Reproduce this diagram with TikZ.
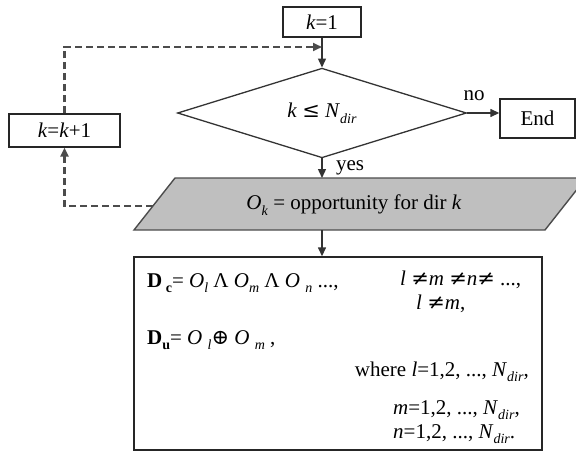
\documentclass[tikz,border=0pt]{standalone}
\usepackage{fontspec}
\setmainfont{Liberation Serif}
\newfontfamily\symfont{DejaVu Serif}
\usetikzlibrary{shapes.geometric,arrows.meta}

% lowered small index, as used for O_k, N_dir, D_c ...
\newcommand{\lowsub}[1]{\raisebox{-0.28em}{\fontsize{14}{14}\selectfont #1}}
% relation signs taken from a font that carries them
\newcommand{\sym}[1]{{\symfont #1}}

\begin{document}
\begin{tikzpicture}[x=1pt,y=-1pt,
  font=\fontsize{21}{24}\selectfont,
  box/.style={draw=black!85, line width=1.4pt, inner sep=0pt},
  flow/.style={draw=black!80, line width=1.4pt, -{Triangle[length=9pt,width=8pt]}},
  loopback/.style={draw=black!70, line width=2.2pt, dash pattern=on 7pt off 4pt,
                   -{Triangle[length=9pt,width=8pt]}},
  databox/.style={fill=black!25, draw=black!70, line width=1.4pt, line join=miter},
  tag/.style={inner sep=0pt},
]
\useasboundingbox (0,0) rectangle (576,452);
\clip (0,0) rectangle (576,452);

% process boxes and decision
\node[box, minimum width=78pt, minimum height=30pt] (init) at (322,22) {\textit{k}=1};
\node[diamond, draw=black!80, line width=1.3pt, inner sep=0pt,
      minimum width=289pt, minimum height=84pt] (test) at (322,113)
      {\textit{k} \sym{≤} \textit{N}\lowsub{\textit{dir}}};
\node[box, minimum width=75pt, minimum height=39pt] (stop) at (537.5,118.5) {End};
\node[box, minimum width=111pt, minimum height=33pt] (inc) at (64.5,130.5)
      {\textit{k}=\textit{k}+1};

% data block (parallelogram)
\coordinate (pbl) at (134,230);
\coordinate (ptl) at (175,178);
\coordinate (ptr) at (586,178);
\coordinate (pbr) at (545,230);
\coordinate (pleft) at (153,206);
\draw[databox] (pbl) -- (ptl) -- (ptr) -- (pbr) -- cycle;
\node[tag] (opp) at (354,205)
      {\textit{O}\lowsub{\textit{k}} = opportunity for dir \textit{k}};

% result box
\node[box, minimum width=408pt, minimum height=193pt] (res) at (338,353.5) {};
\node[tag, anchor=base west] (dc) at (147,287)
      {\textbf{D}\,\lowsub{\textbf{c}}= \textit{O}\lowsub{\textit{l}} Λ \textit{O}\lowsub{\textit{m}} Λ \textit{O} \lowsub{\textit{n}} ...,};
\node[tag, anchor=base west] (neq1) at (400,285)
      {\textit{l} \sym{≠}\textit{m} \sym{≠}\textit{n}\sym{≠} ...,};
\node[tag, anchor=base west] (neq2) at (416,309) {\textit{l} \sym{≠}\textit{m},};
\node[tag, anchor=base west] (du) at (147,344)
      {\textbf{D}\lowsub{\textbf{u}}= \textit{O} \lowsub{\textit{l}}\sym{⊕} \textit{O} \lowsub{\textit{m}} ,};
\node[tag, anchor=base east] (rl) at (529,376)
      {where \textit{l}=1,2, ..., \textit{N}\lowsub{\textit{dir}},};
\node[tag, anchor=base west] (rm) at (393,414)
      {\textit{m}=1,2, ..., \textit{N}\lowsub{\textit{dir}},};
\node[tag, anchor=base west] (rn) at (393,438)
      {\textit{n}=1,2, ..., \textit{N}\lowsub{\textit{dir}}.};

% connectors
\coordinate (join) at (322,47);
\draw[flow] (init) -- (test.north);
\draw[flow] (test.east) -- (test.east -| stop.west);
\node[tag] (nolab) at (474,96) {no};
\draw[flow] (test.south) -- (test.south |- ptl);
\node[tag] (yeslab) at (350,168) {yes};
\draw[flow] (test.south |- pbl) -- (test.south |- res.north);
\draw[loopback] (pleft) -| (inc.south);
\draw[loopback] (inc.north) |- (join);
\end{tikzpicture}
\end{document}
